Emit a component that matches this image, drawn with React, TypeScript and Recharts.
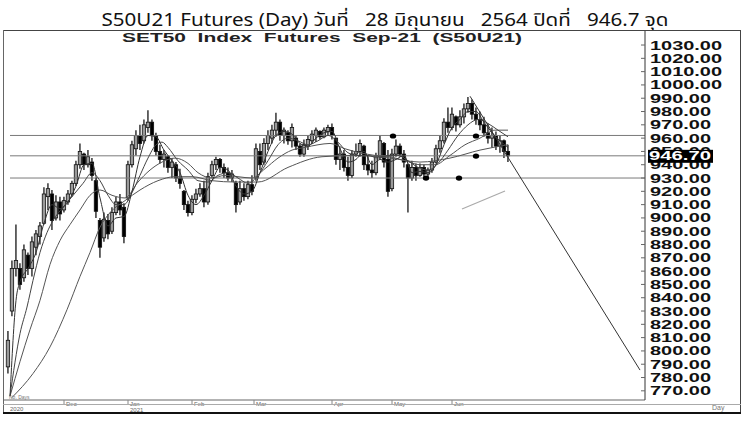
import React from 'react';
import { ComposedChart, Bar, Line, Scatter, XAxis, YAxis, ReferenceLine } from 'recharts';

// daily bars S50U21 (index 0 = early Nov 2020)
const opens = [
  788, 830, 862, 862, 855, 872, 862, 878, 886, 896, 916, 918, 900, 912, 906, 912, 918, 926, 940, 948,
  940, 942, 928, 898, 885, 898, 890, 904, 912, 908, 915, 940, 952, 962, 958, 968, 972, 962, 950, 944,
  946, 938, 940, 930, 920, 910, 904, 914, 918, 922, 912, 932, 940, 944, 938, 934, 930, 926, 912, 922,
  916, 925, 930, 950, 942, 956, 960, 966, 972, 962, 964, 958, 960, 954, 948, 954, 958, 962, 965, 961,
  965, 968, 960, 944, 948, 938, 932, 948, 950, 954, 940, 936, 934, 946, 956, 944, 922, 948, 954, 948,
  940, 930, 938, 932, 938, 933, 936, 942, 952, 958, 972, 968, 976, 970, 976, 982, 986, 978, 974, 970,
  964, 960, 962, 954, 958, 950,
];
const highs = [
  815, 868, 895, 866, 880, 874, 886, 891, 897, 923, 926, 921, 917, 916, 916, 921, 928, 943, 956, 949,
  951, 945, 930, 900, 904, 903, 908, 916, 918, 911, 943, 958, 966, 970, 974, 981, 974, 964, 955, 951,
  947, 945, 942, 937, 921, 913, 917, 922, 926, 928, 934, 943, 946, 945, 941, 938, 936, 928, 928, 926,
  928, 932, 956, 956, 960, 966, 970, 979, 974, 968, 966, 971, 962, 956, 959, 962, 966, 968, 966, 968,
  970, 971, 960, 953, 951, 946, 951, 956, 959, 955, 947, 943, 949, 962, 957, 951, 952, 959, 956, 951,
  941, 943, 941, 941, 940, 938, 945, 955, 962, 975, 983, 983, 977, 981, 986, 991, 989, 983, 980, 976,
  971, 968, 965, 962, 959, 955,
];
const lows = [
  783, 826, 856, 846, 852, 857, 856, 872, 880, 895, 906, 891, 898, 898, 904, 910, 916, 924, 937, 936,
  938, 928, 900, 870, 882, 884, 888, 902, 902, 881, 913, 938, 947, 951, 956, 964, 958, 947, 941, 938,
  934, 930, 927, 922, 906, 901, 902, 911, 916, 908, 910, 930, 936, 934, 930, 928, 927, 904, 910, 913,
  914, 917, 928, 936, 940, 951, 956, 961, 958, 956, 955, 953, 951, 946, 946, 951, 956, 957, 959, 960,
  962, 959, 940, 936, 935, 928, 930, 946, 946, 936, 932, 930, 932, 944, 938, 916, 920, 946, 946, 938,
  904, 928, 928, 931, 931, 930, 934, 941, 949, 956, 964, 966, 965, 968, 971, 979, 974, 970, 966, 961,
  956, 953, 951, 949, 945, 942,
];
const closes = [
  808, 862, 868, 850, 876, 862, 882, 888, 894, 918, 922, 898, 912, 903, 913, 918, 926, 940, 950, 940,
  946, 932, 905, 878, 899, 888, 904, 912, 906, 886, 940, 955, 962, 956, 970, 972, 962, 950, 944, 948,
  938, 942, 930, 926, 910, 904, 914, 918, 922, 912, 931, 940, 944, 938, 934, 930, 933, 910, 922, 916,
  925, 920, 952, 940, 956, 962, 966, 972, 962, 966, 958, 968, 954, 948, 955, 959, 963, 966, 961, 966,
  968, 962, 944, 948, 938, 932, 948, 950, 956, 940, 936, 934, 946, 958, 942, 920, 948, 954, 948, 942,
  930, 938, 932, 938, 933, 936, 942, 952, 958, 972, 968, 978, 970, 976, 982, 986, 978, 974, 970, 964,
  960, 962, 954, 958, 950, 946.7,
];

// moving averages as [bar index, value]
const ma5 = [
  [0.5, 766], [2, 838], [3, 852], [5, 862], [7, 874], [9, 896], [11, 910], [13, 907], [15, 912], [17, 924],
  [19, 940], [21, 941], [23, 915], [25, 894], [27, 900], [29, 901], [31, 920], [33, 946], [35, 962], [37, 961],
  [39, 951], [41, 943], [43, 934], [45, 917], [47, 910], [49, 917], [51, 928], [53, 938], [55, 936], [57, 924],
  [59, 918], [61, 920], [63, 934], [65, 950], [67, 962], [69, 965], [71, 963], [73, 956], [75, 954], [77, 960],
  [79, 964], [81, 965], [83, 952], [85, 942], [87, 944], [89, 950], [91, 940], [93, 944], [95, 942], [97, 944],
  [99, 947], [101, 934], [103, 935], [105, 934], [107, 940], [109, 955], [111, 968], [113, 974], [115, 980],
  [117, 980], [119, 972], [121, 964], [123, 958], [125, 953],
];
const ma10 = [
  [0.5, 766], [3, 813], [4.75, 833], [6.25, 853], [8, 874], [9.75, 889], [11.25, 898], [13.75, 908], [16, 916],
  [18.75, 926], [21, 934], [23, 928], [25, 917], [27, 910], [29, 910], [31, 919], [33, 932], [35, 945], [37, 955],
  [38.5, 957], [40, 953], [42.5, 943], [45, 936], [47.5, 928], [50, 927], [52.5, 932], [55, 934], [57.5, 930],
  [60, 926], [62.5, 932], [65, 943], [67.5, 955], [70, 960], [72.5, 958], [75, 955], [77.5, 958], [80, 962],
  [82.5, 957], [85, 949], [87.5, 947], [90, 947], [92.5, 945], [95, 947], [97.5, 947], [100, 943], [102.5, 938],
  [105, 936], [107.5, 941], [110, 951], [112.5, 962], [115, 970], [117.5, 974], [120, 971], [122.5, 966], [125, 961],
];
const ma25 = [
  [0.5, 766], [3, 792], [5.5, 816], [8, 838], [10.5, 865], [13, 883], [15.5, 895], [18, 906], [20.5, 917],
  [23, 921], [26, 917], [29.25, 915], [32.5, 927], [35.5, 936], [38.5, 942], [41.75, 945], [45, 941], [47.5, 934],
  [51, 930], [54.25, 932], [57.5, 931], [61, 930], [64.25, 937], [67.5, 945], [71, 951], [74.25, 953], [77.5, 955],
  [80.5, 956], [84.25, 952], [88, 949], [91.75, 947], [95.5, 946], [99.25, 943], [103, 940], [106.75, 940],
  [110.5, 947], [114.25, 955], [118, 960], [121.75, 966], [125, 966],
];
const ma75 = [
  [1, 765], [6.25, 783], [10.5, 803], [14.75, 831], [18, 856], [20.5, 874], [23, 893], [25.5, 904], [29.25, 913],
  [33, 921], [37.5, 928], [41.75, 931], [46, 931], [51, 928], [56.75, 927], [62.5, 927], [70, 938], [78.5, 946],
  [86.75, 947], [95.5, 945], [103, 942], [110.5, 945], [118, 951], [125, 955],
];

const trendLine = [[115.5, 991.5], [158, 785.6]];
const projection = [[113.5, 906.7], [124.25, 920.2]];
const markers = [[96.25, 961.6], [117, 961.6], [117, 946.5], [112.75, 930], [104.5, 930]];
const levels = [962, 946.7, 930];

const lastClose = 946.7;
const priceTicks = [
  770, 780, 790, 800, 810, 820, 830, 840, 850, 860, 870, 880, 890, 900, 910, 920, 930, 940, 950, 960,
  970, 980, 990, 1000, 1010, 1020, 1030, 946.7,
];
const monthTicks = [14, 30, 46, 61.5, 81, 96, 111];
const monthLabels = ['Dec', 'Jan', 'Feb', 'Mar', 'Apr', 'May', 'Jun'];
const yearLabels: Record<number, string> = { 30: '2021' };

const title = 'S50U21 Futures (Day) วันที่   28 มิถุนายน   2564 ปิดที่   946.7 จุด';
const subTitle = 'SET50  Index  Futures  Sep-21  (S50U21)';

const bars = opens.map((o, i) => ({
  i,
  o,
  h: highs[i],
  l: lows[i],
  c: closes[i],
  range: [lows[i], highs[i]],
}));
const pts = (arr: number[][]) => arr.map(([i, v]) => ({ i, v }));

const Candle = (props: any) => {
  const { x, y, width, height, payload } = props;
  if (!payload) return null;
  const { o, h, l, c } = payload;
  const top = Math.min(y, y + height);
  const hgt = Math.abs(height);
  const k = hgt / (h - l || 1);
  const cx = x + width / 2;
  const bTop = top + (h - Math.max(o, c)) * k;
  const bBot = top + (h - Math.min(o, c)) * k;
  return (
    <g>
      <line x1={cx} x2={cx} y1={top} y2={top + hgt} stroke="#000" strokeWidth={1.2} />
      <rect
        x={cx - 1.7}
        y={bTop}
        width={3.4}
        height={Math.max(1, bBot - bTop)}
        fill={c < o ? '#000' : '#9a9a9a'}
        stroke="#111"
        strokeWidth={0.8}
      />
    </g>
  );
};

const PriceTick = (props: any) => {
  const { x, y, payload } = props;
  const v = payload.value;
  const label = v.toFixed(2);
  if (v === lastClose) {
    return (
      <g>
        <rect x={x + 3} y={y - 6} width={65} height={13} fill="#000" />
        <text x={x + 4} y={y + 4.5} fill="#fff" fontSize={12} fontWeight="bold"
          fontFamily="Liberation Sans, Arial, sans-serif" textLength={62} lengthAdjust="spacingAndGlyphs">
          {label}
        </text>
      </g>
    );
  }
  return (
    <g>
      <line x1={x - 4} x2={x} y1={y} y2={y} stroke="#666" />
      <text x={x + 5} y={y + 4.5} fill="#111" fontSize={12.5} fontWeight="bold"
        fontFamily="Liberation Sans, Arial, sans-serif" textLength={v >= 1000 ? 72 : 61} lengthAdjust="spacingAndGlyphs">
        {label}
      </text>
    </g>
  );
};

const LeftTick = (props: any) => {
  const { x, y } = props;
  return <line x1={x} x2={x + 3} y1={y} y2={y} stroke="#888" />;
};

const MonthTick = (props: any) => {
  const { x, y, payload } = props;
  const idx = monthTicks.indexOf(payload.value);
  return (
    <g>
      <line x1={x} x2={x} y1={y} y2={y + 4} stroke="#888" />
      <text x={x + 2} y={y + 6} fontSize={6} fill="#666" fontFamily="Liberation Sans, Arial, sans-serif">
        {monthLabels[idx]}
      </text>
      {yearLabels[payload.value] && (
        <text x={x + 2} y={y + 12} fontSize={6} fill="#666" fontFamily="Liberation Sans, Arial, sans-serif">
          {yearLabels[payload.value]}
        </text>
      )}
    </g>
  );
};

const Marker = (props: any) => {
  const { cx, cy } = props;
  return <ellipse cx={cx} cy={cy} rx={3.2} ry={2.6} fill="#000" />;
};

export default function App() {
  return (
    <div style={{ position: 'absolute', left: 0, top: 0, width: 750, height: 422, background: '#fff' }}>
      <ComposedChart width={750} height={422} data={bars} margin={{ top: 30, right: 10, bottom: 9, left: 4 }}>
        <XAxis
          dataKey="i"
          type="number"
          domain={[-1, 159.25]}
          ticks={monthTicks}
          interval={0}
          tick={<MonthTick />}
          tickLine={false}
          tickSize={0}
          tickMargin={0}
          height={13}
          axisLine={{ stroke: '#666' }}
          allowDataOverflow
        />
        <YAxis
          yAxisId="p"
          orientation="right"
          domain={[763.1, 1041.3]}
          ticks={priceTicks}
          interval={0}
          width={95}
          tick={<PriceTick />}
          tickLine={false}
          tickSize={0}
          tickMargin={0}
          axisLine={{ stroke: '#333' }}
          allowDataOverflow
        />
        <YAxis
          yAxisId="l"
          orientation="left"
          domain={[763.1, 1041.3]}
          ticks={priceTicks.slice(0, 27)}
          interval={0}
          width={0}
          tick={<LeftTick />}
          tickLine={false}
          tickSize={0}
          tickMargin={0}
          axisLine={false}
          allowDataOverflow
        />
        {levels.map((lv) => (
          <ReferenceLine
            key={lv}
            yAxisId="p"
            segment={[{ x: 0.5, y: lv }, { x: 159.25, y: lv }]}
            stroke="#7a7a7a"
            strokeWidth={1}
          />
        ))}
        <Line yAxisId="p" data={pts(ma75)} dataKey="v" type="monotone" stroke="#555" strokeWidth={1} dot={false} isAnimationActive={false} />
        <Line yAxisId="p" data={pts(ma25)} dataKey="v" type="monotone" stroke="#555" strokeWidth={1} dot={false} isAnimationActive={false} />
        <Line yAxisId="p" data={pts(ma10)} dataKey="v" type="monotone" stroke="#444" strokeWidth={1} dot={false} isAnimationActive={false} />
        <Bar yAxisId="p" dataKey="range" barSize={3} shape={<Candle />} isAnimationActive={false} />
        <Line yAxisId="p" data={pts(ma5)} dataKey="v" type="monotone" stroke="#333" strokeWidth={1} dot={false} isAnimationActive={false} />
        <Line yAxisId="p" data={pts(trendLine)} dataKey="v" type="linear" stroke="#333" strokeWidth={1} dot={false} isAnimationActive={false} />
        <Line yAxisId="p" data={pts(projection)} dataKey="v" type="linear" stroke="#aaa" strokeWidth={1.2} dot={false} isAnimationActive={false} />
        <Scatter yAxisId="p" data={pts(markers)} dataKey="v" shape={<Marker />} isAnimationActive={false} />
      </ComposedChart>
      <svg width={750} height={422} style={{ position: 'absolute', left: 0, top: 0, pointerEvents: 'none' }}>
        <text x={385} y={26} textAnchor="middle" fontSize={18} fill="#111"
          fontFamily="'Noto Sans', 'Noto Sans Thai', Tahoma, sans-serif" style={{ whiteSpace: 'pre' }}
          textLength={567} lengthAdjust="spacingAndGlyphs">
          {title}
        </text>
        <text x={322} y={42} textAnchor="middle" fontSize={13} fontWeight="bold" fill="#222"
          fontFamily="'Liberation Sans', Arial, sans-serif" style={{ whiteSpace: 'pre' }}
          textLength={400} lengthAdjust="spacingAndGlyphs">
          {subTitle}
        </text>
        <line x1={3} x2={741} y1={30.5} y2={30.5} stroke="#444" />
        <line x1={3.5} x2={3.5} y1={30} y2={413} stroke="#666" />
        <line x1={740.5} x2={740.5} y1={30} y2={413} stroke="#444" />
        <line x1={3} x2={741} y1={404.5} y2={404.5} stroke="#aaa" />
        <line x1={3} x2={741} y1={413} y2={413} stroke="#111" strokeWidth={2} />
        <text x={9} y={399} fontSize={5} fill="#777" fontFamily="Liberation Sans, Arial, sans-serif">No. Days</text>
        <text x={10} y={411} fontSize={6} fill="#666" fontFamily="Liberation Sans, Arial, sans-serif">2020</text>
        <text x={712} y={410} fontSize={7} fill="#777" fontFamily="Liberation Sans, Arial, sans-serif">Day</text>
      </svg>
    </div>
  );
}
